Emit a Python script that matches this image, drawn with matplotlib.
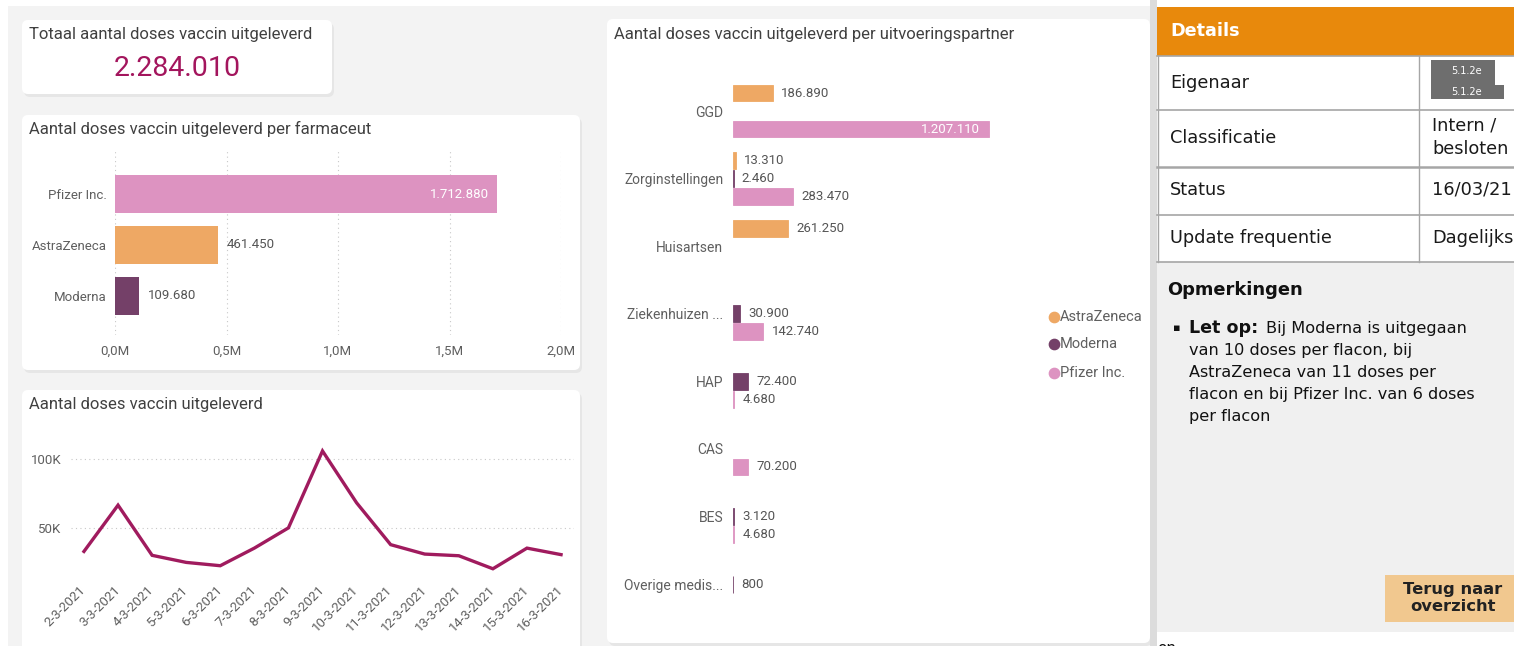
import matplotlib
matplotlib.use("Agg")
import matplotlib.pyplot as plt
from matplotlib.patches import FancyBboxPatch, Rectangle

W, H = 1514, 646

pharma = ['Pfizer Inc.', 'AstraZeneca', 'Moderna']
pharma_doses = [1712880, 461450, 109680]
pharma_ticks = [0, 500000, 1000000, 1500000, 2000000]
pharma_tick_labels = ['0,0M', '0,5M', '1,0M', '1,5M', '2,0M']

days = ['2-3-2021', '3-3-2021', '4-3-2021', '5-3-2021', '6-3-2021', '7-3-2021', '8-3-2021',
        '9-3-2021', '10-3-2021', '11-3-2021', '12-3-2021', '13-3-2021', '14-3-2021',
        '15-3-2021', '16-3-2021']
daily_doses = [33300, 66700, 30500, 25400, 23000, 35700, 50300, 105800, 68400, 38200,
               31400, 30200, 20800, 35700, 31000]
daily_ticks = [50000, 100000]
daily_tick_labels = ['50K', '100K']

partners = ['GGD', 'Zorginstellingen', 'Huisartsen', 'Ziekenhuizen ...', 'HAP', 'CAS', 'BES',
            'Overige medis...']
partner_astra = [186890, 13310, 261250, None, None, None, None, None]
partner_moderna = [None, 2460, None, 30900, 72400, None, 3120, 800]
partner_pfizer = [1207110, 283470, None, 142740, 4680, 70200, 4680, None]

PINK = '#dd93c1'
ORANGE = '#eea864'
PURPLE = '#744068'
LINE = '#a01b5e'
NARROW = ['Roboto', 'DejaVu Sans']
GREY_TXT = '#5f5f5f'


def fmt(v):
    return f"{v:,}".replace(',', '.')


fig = plt.figure(figsize=(W / 100, H / 100), dpi=100)
fig.patch.set_facecolor('white')
bg = fig.add_axes([0, 0, 1, 1])
bg.set_xlim(0, W)
bg.set_ylim(H, 0)
bg.axis('off')


def px_axes(x0, y0, x1, y1):
    ax = fig.add_axes([x0 / W, 1 - y1 / H, (x1 - x0) / W, (y1 - y0) / H])
    ax.set_facecolor('none')
    for s in ax.spines.values():
        s.set_visible(False)
    return ax


def card(x0, y0, x1, y1):
    bg.add_patch(FancyBboxPatch((x0 + 2, y0 + 3), x1 - x0, y1 - y0,
                                boxstyle='round,pad=0,rounding_size=6',
                                fc='black', alpha=0.05, ec='none'))
    bg.add_patch(FancyBboxPatch((x0, y0), x1 - x0, y1 - y0,
                                boxstyle='round,pad=0,rounding_size=6',
                                fc='white', ec='none'))


# dashboard background
bg.add_patch(Rectangle((8, 6), 1142, 640, fc='#f3f3f3', ec='none'))
card(22, 20, 332, 94)
card(22, 115, 580, 370)
card(22, 390, 580, 652)
card(607, 19, 1150, 643)

title_kw = dict(family=NARROW, fontsize=12, color='#404040', va='center', ha='left')
bg.text(29, 34, 'Totaal aantal doses vaccin uitgeleverd', **title_kw)
bg.text(29, 129, 'Aantal doses vaccin uitgeleverd per farmaceut', **title_kw)
bg.text(29, 405, 'Aantal doses vaccin uitgeleverd', **title_kw)
bg.text(614, 34, 'Aantal doses vaccin uitgeleverd per uitvoeringspartner', **title_kw)

# KPI card
bg.text(177, 68, fmt(sum(pharma_doses)), family=NARROW, fontsize=20.5, color='#a3155d',
        ha='center', va='center')

# doses per manufacturer
ax1 = px_axes(115, 150, 561, 335)
ypos = list(range(len(pharma)))
ax1.barh(ypos, pharma_doses, height=0.76, color=[PINK, ORANGE, PURPLE])
ax1.set_xlim(0, 2000000)
ax1.set_ylim(2.765, -0.863)
ax1.set_xticks(pharma_ticks, pharma_tick_labels)
ax1.set_yticks(ypos, pharma)
ax1.tick_params(length=0, labelsize=9.5, labelcolor=GREY_TXT)
ax1.tick_params(axis='x', pad=7)
ax1.tick_params(axis='y', pad=6)
for lab in ax1.get_xticklabels() + ax1.get_yticklabels():
    lab.set_family(NARROW)
ax1.grid(axis='x', color='#c8c8c8', linestyle=(0, (1, 3)), linewidth=0.8)
ax1.set_axisbelow(True)
for y, v in zip(ypos, pharma_doses):
    if v > 1000000:
        ax1.annotate(fmt(v), (v, y), xytext=(-6, 0), textcoords='offset points',
                     ha='right', va='center', color='white', fontsize=9.5, family=NARROW)
    else:
        ax1.annotate(fmt(v), (v, y), xytext=(6, 0), textcoords='offset points',
                     ha='left', va='center', color='#555555', fontsize=9.5, family=NARROW)

# daily doses line
ax2 = px_axes(71, 430, 574, 584)
xi = list(range(len(days)))
ax2.plot(xi, daily_doses, color=LINE, linewidth=2.4, solid_joinstyle='miter')
ax2.set_xlim(-0.38, 14.38)
ax2.set_ylim(9812, 120924)
ax2.set_yticks(daily_ticks, daily_tick_labels)
ax2.set_xticks(xi, days)
ax2.tick_params(length=0, labelsize=9.5, labelcolor=GREY_TXT)
ax2.tick_params(axis='y', pad=7)
ax2.tick_params(axis='x', pad=3)
for lab in ax2.get_xticklabels():
    lab.set_rotation(45)
    lab.set_ha('right')
    lab.set_va('center')
    lab.set_rotation_mode('anchor')
for lab in ax2.get_xticklabels() + ax2.get_yticklabels():
    lab.set_family(NARROW)
ax2.grid(axis='y', color='#c8c8c8', linestyle=(0, (1, 3)), linewidth=0.8)

# doses per partner
ax3 = px_axes(733, 70, 1040, 620)
slot = 0.266
bh = 0.25
for off, vals, col in [(-slot, partner_astra, ORANGE), (0, partner_moderna, PURPLE),
                       (slot, partner_pfizer, PINK)]:
    for i, v in enumerate(vals):
        if v is None:
            continue
        ax3.barh(i + off, v, height=bh, color=col, edgecolor=col, linewidth=0.6)
        if v > 1000000:
            ax3.annotate(fmt(v), (v, i + off), xytext=(-6, 0), textcoords='offset points',
                         ha='right', va='center', color='white', fontsize=9.5, family=NARROW)
        else:
            ax3.annotate(fmt(v), (v, i + off), xytext=(6, 0), textcoords='offset points',
                         ha='left', va='center', color='#555555', fontsize=9.5, family=NARROW)
ax3.set_xlim(0, 1449500)
ax3.set_ylim(7.53, -0.607)
ax3.set_xticks([])
ax3.set_yticks(range(len(partners)), partners)
ax3.tick_params(length=0, labelsize=10, labelcolor=GREY_TXT, pad=7)
for lab in ax3.get_yticklabels():
    lab.set_family(NARROW)

# legend
for yy, name, col in [(317, 'AstraZeneca', ORANGE), (344, 'Moderna', PURPLE), (373, 'Pfizer Inc.', PINK)]:
    bg.scatter([1054], [yy], s=55, color=col, zorder=3)
    bg.text(1060, yy, name, family=NARROW, fontsize=10.5, color=GREY_TXT, va='center', ha='left')

# right side panel
bg.add_patch(Rectangle((1150, 0), 7, H, fc='#dcdcdc', ec='none'))
bg.add_patch(Rectangle((1157, 7), 360, 49, fc='#e8890c', ec='none'))
bg.add_patch(Rectangle((1157, 56), 360, 206, fc='white', ec='none'))
bg.add_patch(Rectangle((1157, 262), 360, 370, fc='#f0f0f0', ec='none'))
for yy in [56, 110, 167, 215, 262]:
    bg.plot([1157, 1514], [yy, yy], color='#a6a6a6', lw=1.2 if yy != 167 else 1.8)
bg.plot([1419, 1419], [56, 262], color='#a6a6a6', lw=1)
bg.plot([1157.5, 1157.5], [56, 262], color='#a6a6a6', lw=1)

bg.text(1170, 31, 'Details', color='white', fontsize=12.7, fontweight='bold', va='center')
rk = dict(fontsize=12.8, color='#1a1a1a', va='center', ha='left')
bg.text(1170, 83, 'Eigenaar', **rk)
bg.text(1170, 138, 'Classificatie', **rk)
bg.text(1170, 190, 'Status', **rk)
bg.text(1170, 238, 'Update frequentie', **rk)
bg.text(1432, 126, 'Intern /', **rk)
bg.text(1432, 149, 'besloten', **rk)
bg.text(1432, 190, '16/03/21', **rk)
bg.text(1432, 238, 'Dagelijks', **rk)

bg.add_patch(Rectangle((1431, 60), 64, 25, fc='#6e6e6e', ec='none'))
bg.add_patch(Rectangle((1431, 85), 73, 14, fc='#6e6e6e', ec='none'))
bg.text(1467, 71, '5.1.2e', color='white', fontsize=7, ha='center', va='center')
bg.text(1467, 92, '5.1.2e', color='white', fontsize=7, ha='center', va='center')

bg.text(1167, 290, 'Opmerkingen', fontsize=12.9, fontweight='bold', color='#111111', va='center')
nk = dict(fontsize=11.6, color='#111111', va='center', ha='left')
bg.text(1173, 328, '\u25aa', fontsize=8, color='#111111', va='center', ha='left')
bg.text(1189, 328, 'Let op:', fontsize=12.6, fontweight='bold', color='#111111',
        va='center', ha='left')
bg.text(1266, 328, 'Bij Moderna is uitgegaan', **nk)
bg.text(1189, 351, 'van 10 doses per flacon, bij', **nk)
bg.text(1189, 373, 'AstraZeneca van 11 doses per', **nk)
bg.text(1189, 395, 'flacon en bij Pfizer Inc. van 6 doses', **nk)
bg.text(1189, 416, 'per flacon', **nk)

bg.add_patch(Rectangle((1385, 575), 135, 47, fc='#f1c88f', ec='none'))
bg.text(1453, 598, 'Terug naar\noverzicht', fontsize=11.8, fontweight='bold', color='#222222',
        ha='center', va='center', linespacing=1.1)
bg.text(1157, 653, 'on', fontsize=11, color='#111111', va='baseline')

fig.savefig('out.png', dpi=100, facecolor='white')
